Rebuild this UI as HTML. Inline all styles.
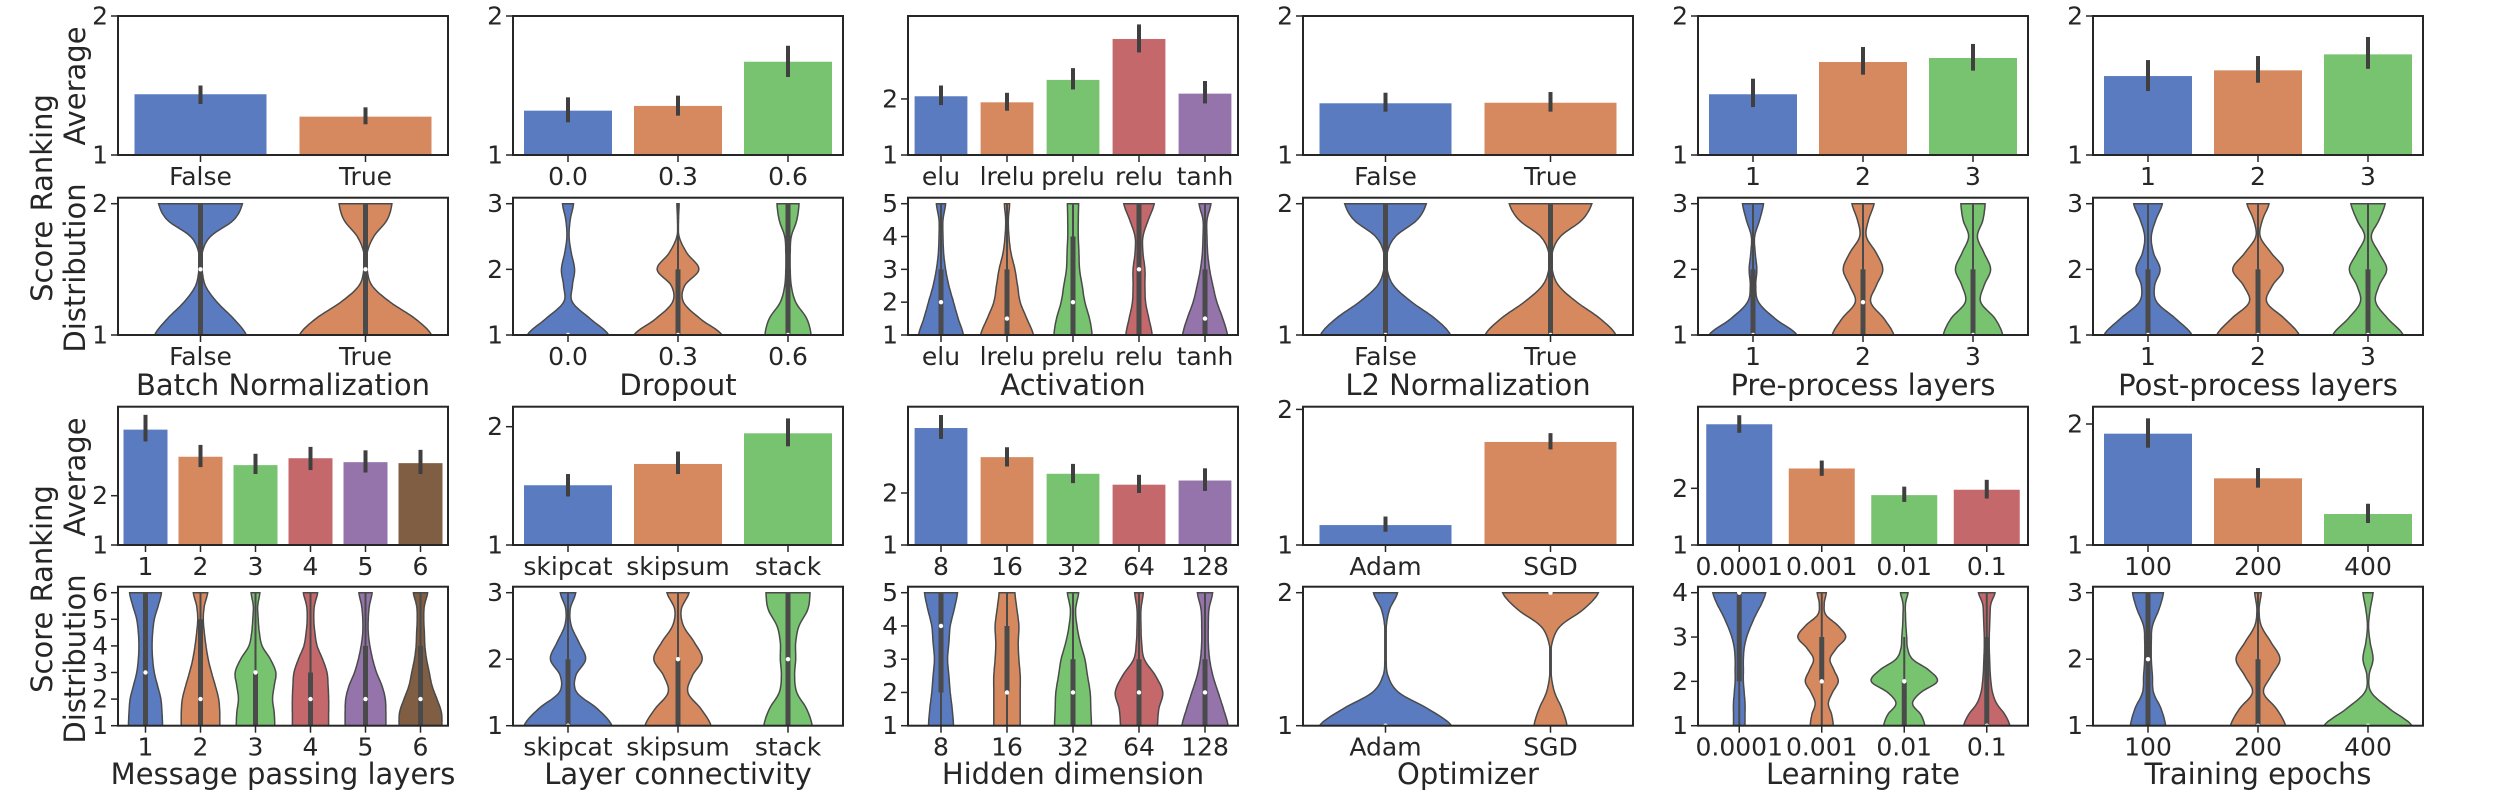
<!DOCTYPE html>
<html><head><meta charset="utf-8"><title>Score ranking by hyperparameter</title>
<style>
html,body{margin:0;padding:0;background:#fff;}
svg text{font-family:"DejaVu Sans","Liberation Sans",sans-serif;fill:#262626;}
</style></head>
<body>
<svg id="fig" xmlns="http://www.w3.org/2000/svg" width="2498" height="796" viewBox="0 0 2498 796">
<g>
<text x="42" y="198" font-size="29" text-anchor="middle" dominant-baseline="central" transform="rotate(-90 42 198)">Score Ranking</text>
<text x="75" y="86" font-size="29" text-anchor="middle" dominant-baseline="central" transform="rotate(-90 75 86)">Average</text>
<text x="75" y="268" font-size="29" text-anchor="middle" dominant-baseline="central" transform="rotate(-90 75 268)">Distribution</text>
</g>
<g>
<text x="42" y="589" font-size="29" text-anchor="middle" dominant-baseline="central" transform="rotate(-90 42 589)">Score Ranking</text>
<text x="75" y="477" font-size="29" text-anchor="middle" dominant-baseline="central" transform="rotate(-90 75 477)">Average</text>
<text x="75" y="659" font-size="29" text-anchor="middle" dominant-baseline="central" transform="rotate(-90 75 659)">Distribution</text>
</g>
</svg>
<script>
// ---------- DATA ----------
const catBN=["False","True"];
const meanBN=[1.437,1.276];
const ciLoBN=[1.367,1.221];
const ciHiBN=[1.50,1.343];
const densBN=[[0.277,0.2,0.1,0.03,0.01,0.01,0.06,0.2,0.254],[0.4,0.3,0.15,0.04,0.01,0.01,0.05,0.13,0.16]];
const boxBN=[[1,2,1.5,1,2],[1,2,1.5,1,2]];

const catDO=["0.0","0.3","0.6"];
const meanDO=[1.319,1.353,1.671];
const ciLoDO=[1.235,1.283,1.561];
const ciHiDO=[1.415,1.427,1.786];
const densDO=[[0.37,0.2,0.04,0.04,0.06,0.03,0.01,0.02,0.05],[0.4,0.2,0.05,0.06,0.19,0.08,0.01,0.005,0.01],[0.21,0.17,0.07,0.03,0.02,0.02,0.03,0.08,0.1]];
const boxDO=[[1,1,1,1,1],[1,2,1,1,3],[1,3,1,1,3]];

const catAC=["elu","lrelu","prelu","relu","tanh"];
const meanAC=[2.048,1.94,2.34,3.07,2.095];
const ciLoAC=[1.89,1.79,2.17,2.83,1.92];
const ciHiAC=[2.24,2.11,2.55,3.33,2.32];
const densAC=[[0.34,0.26,0.19,0.12,0.07,0.04,0.03,0.03,0.07],[0.4,0.3,0.2,0.16,0.12,0.06,0.03,0.02,0.04],[0.29,0.25,0.18,0.14,0.1,0.09,0.08,0.08,0.085],[0.2,0.15,0.1,0.09,0.09,0.06,0.06,0.14,0.23],[0.34,0.27,0.18,0.12,0.07,0.04,0.03,0.03,0.09]];
const boxAC=[[1,3,2,1,5],[1,3,1.5,1,5],[1,4,2,1,5],[1,5,3,1,5],[1,3,1.5,1,5]];

const catL2=["False","True"];
const meanL2=[1.372,1.376];
const ciLoL2=[1.312,1.312];
const ciHiL2=[1.448,1.453];
const densL2=[[0.394,0.3,0.16,0.05,0.01,0.01,0.06,0.19,0.247],[0.396,0.3,0.16,0.05,0.01,0.01,0.06,0.19,0.25]];
const boxL2=[[1,2,1,1,2],[1,2,1,1,2]];

const catPR=["1","2","3"];
const meanPR=[1.437,1.669,1.698];
const ciLoPR=[1.345,1.578,1.607];
const ciHiPR=[1.549,1.777,1.799];
const densPR=[[0.4,0.2,0.05,0.025,0.035,0.02,0.015,0.06,0.095],[0.28,0.19,0.07,0.12,0.18,0.12,0.03,0.05,0.1],[0.27,0.2,0.07,0.1,0.16,0.1,0.04,0.09,0.11]];
const boxPR=[[1,2,1,1,3],[1,2,1.5,1,3],[1,2,1,1,3]];

const catPO=["1","2","3"];
const meanPO=[1.568,1.609,1.724];
const ciLoPO=[1.46,1.52,1.62];
const ciHiPO=[1.683,1.712,1.849];
const densPO=[[0.4,0.25,0.08,0.06,0.11,0.05,0.03,0.07,0.13],[0.375,0.24,0.08,0.13,0.23,0.12,0.02,0.04,0.1],[0.32,0.18,0.07,0.1,0.17,0.1,0.03,0.1,0.155]];
const boxPO=[[1,2,1,1,3],[1,2,1,1,3],[1,2,1,1,3]];

const catMP=["1","2","3","4","5","6"];
const meanMP=[3.34,2.79,2.62,2.76,2.68,2.66];
const ciLoMP=[3.10,2.58,2.44,2.52,2.47,2.44];
const ciHiMP=[3.64,3.03,2.85,2.99,2.92,2.93];
const densMP=[[0.31,0.3,0.28,0.22,0.16,0.13,0.12,0.13,0.16,0.23,0.29],[0.35,0.35,0.33,0.27,0.2,0.14,0.1,0.07,0.05,0.07,0.13],[0.35,0.34,0.31,0.34,0.37,0.27,0.12,0.07,0.05,0.04,0.08],[0.33,0.33,0.33,0.32,0.3,0.22,0.12,0.08,0.06,0.07,0.13],[0.37,0.37,0.36,0.3,0.2,0.13,0.08,0.05,0.05,0.07,0.12],[0.39,0.38,0.3,0.21,0.16,0.11,0.08,0.07,0.06,0.07,0.13]];
const boxMP=[[1,6,3,1,6],[1,5,2,1,6],[1,3,3,1,6],[1,3,2,1,6],[1,4,2,1,6],[1,4,2,1,6]];

const catLC=["skipcat","skipsum","stack"];
const meanLC=[1.505,1.685,1.944];
const ciLoLC=[1.41,1.60,1.834];
const ciHiLC=[1.60,1.79,2.07];
const densLC=[[0.4,0.27,0.08,0.07,0.16,0.1,0.03,0.02,0.07],[0.3,0.21,0.09,0.13,0.22,0.15,0.05,0.03,0.1],[0.22,0.17,0.08,0.06,0.07,0.07,0.1,0.18,0.2]];
const boxLC=[[1,2,1,1,3],[1,2,2,1,3],[1,3,2,1,3]];

const catHD=["8","16","32","64","128"];
const meanHD=[3.25,2.69,2.37,2.16,2.24];
const ciLoHD=[3.04,2.51,2.19,2.0,2.04];
const ciHiHD=[3.5,2.88,2.56,2.35,2.475];
const densHD=[[0.19,0.17,0.14,0.12,0.1,0.12,0.14,0.2,0.25],[0.2,0.2,0.2,0.2,0.18,0.17,0.18,0.15,0.12],[0.28,0.27,0.26,0.22,0.18,0.11,0.06,0.04,0.085],[0.28,0.3,0.36,0.25,0.08,0.04,0.03,0.03,0.065],[0.35,0.28,0.2,0.12,0.07,0.05,0.05,0.06,0.115]];
const boxHD=[[2,5,4,1,5],[2,4,2,1,5],[1,3,2,1,5],[1,3,2,1,5],[1,3,2,1,5]];

const catOP=["Adam","SGD"];
const meanOP=[1.147,1.76];
const ciLoOP=[1.098,1.705];
const ciHiOP=[1.21,1.825];
const densOP=[[0.4,0.26,0.08,0.015,0.004,0.003,0.005,0.025,0.073],[0.1,0.07,0.025,0.005,0.003,0.01,0.06,0.2,0.29]];
const boxOP=[[1,1,1,1,1],[2,2,2,2,2]];

const catLR=["0.0001","0.001","0.01","0.1"];
const meanLR=[3.13,2.35,1.88,1.975];
const ciLoLR=[2.98,2.22,1.76,1.82];
const ciHiLR=[3.29,2.49,2.03,2.15];
const densLR=[[0.07,0.07,0.07,0.06,0.05,0.05,0.05,0.06,0.09,0.14,0.2,0.27,0.32],[0.14,0.12,0.08,0.13,0.2,0.15,0.1,0.18,0.29,0.2,0.05,0.03,0.055],[0.25,0.2,0.1,0.2,0.4,0.3,0.1,0.04,0.03,0.02,0.015,0.015,0.045],[0.28,0.22,0.12,0.07,0.05,0.04,0.035,0.03,0.03,0.035,0.04,0.05,0.1]];
const boxLR=[[2,4,4,1,4],[2,3,2,1,4],[1,2,2,1,3],[1,3,1,1,4]];

const catTE=["100","200","400"];
const meanTE=[1.92,1.551,1.256];
const ciLoTE=[1.804,1.474,1.182];
const ciHiTE=[2.047,1.636,1.341];
const densTE=[[0.16,0.12,0.05,0.04,0.03,0.03,0.04,0.1,0.14],[0.25,0.17,0.05,0.12,0.2,0.12,0.03,0.01,0.03],[0.4,0.2,0.03,0.01,0.046,0.02,0.005,0.02,0.046]];
const boxTE=[[1,3,2,1,3],[1,2,1,1,3],[1,1,1,1,1]];

const barYlims=[[1,2],[1,2],[1,3.48],[1,2],[1,2],[1,2],[1,3.805],[1,2.169],[1,3.66],[1,2.02],[1,3.44],[1,2.143]];
const violinTopVals=[2,3,5,2,3,3,6,3,5,2,4,3];
const xlabels=["Batch Normalization","Dropout","Activation","L2 Normalization","Pre-process layers","Post-process layers","Message passing layers","Layer connectivity","Hidden dimension","Optimizer","Learning rate","Training epochs"];
const palette=["#5a7bc0","#d6895f","#78c36f","#c4686c","#9474aa","#7f5e43"];

const panels=[
 [catBN,meanBN,ciLoBN,ciHiBN,densBN,boxBN],[catDO,meanDO,ciLoDO,ciHiDO,densDO,boxDO],
 [catAC,meanAC,ciLoAC,ciHiAC,densAC,boxAC],[catL2,meanL2,ciLoL2,ciHiL2,densL2,boxL2],
 [catPR,meanPR,ciLoPR,ciHiPR,densPR,boxPR],[catPO,meanPO,ciLoPO,ciHiPO,densPO,boxPO],
 [catMP,meanMP,ciLoMP,ciHiMP,densMP,boxMP],[catLC,meanLC,ciLoLC,ciHiLC,densLC,boxLC],
 [catHD,meanHD,ciLoHD,ciHiHD,densHD,boxHD],[catOP,meanOP,ciLoOP,ciHiOP,densOP,boxOP],
 [catLR,meanLR,ciLoLR,ciHiLR,densLR,boxLR],[catTE,meanTE,ciLoTE,ciHiTE,densTE,boxTE]
];

// ---------- DRAW ----------
const NS="http://www.w3.org/2000/svg";
const svg=document.getElementById("fig");
function mk(tag,attrs,parent){const e=document.createElementNS(NS,tag);for(const k in attrs)e.setAttribute(k,attrs[k]);(parent||svg).appendChild(e);return e;}
const DARK="#262626";
const W=330;
const rows=[{bt:16,bb:155,vt:197.7,vb:335,xl:395},{bt:406.7,bb:545,vt:586.7,vb:725.7,xl:784}];

panels.forEach((p,i)=>{
  const [cats,means,lo,hi,dens,box]=p;
  const col=i%6, r=rows[Math.floor(i/6)];
  const L=118+395*col;
  const n=cats.length, slot=W/n;
  const xc=k=>L+slot*(k+0.5);
  const yl=barYlims[i];
  const yB=v=>r.bb-(v-yl[0])/(yl[1]-yl[0])*(r.bb-r.bt);
  const g=mk("g",{});
  
  
  // bars
  cats.forEach((c,k)=>{
    const x0=xc(k)-slot*0.4, y=yB(means[k]);
    const b=mk("rect",{x:x0,y:y,width:slot*0.8,height:r.bb-y,fill:palette[k]},g);
    
    
    const e=mk("line",{x1:xc(k),x2:xc(k),y1:yB(lo[k]),y2:yB(hi[k]),stroke:"#3f3f3f","stroke-width":4},g);
    
    
  });
  const f1=mk("rect",{x:L,y:r.bt,width:W,height:r.bb-r.bt,fill:"none",stroke:DARK,"stroke-width":2},g);
  
  
  // bar y ticks
  [1,2].forEach(t=>{
    if(t<yl[0]||t>yl[1]+1e-6)return;
    const y=yB(t);
    const tk=mk("line",{x1:L-7,x2:L,y1:y,y2:y,stroke:DARK,"stroke-width":1.5},g);
    
    
    const tl=mk("text",{x:L-10,y:y,"font-size":25,"text-anchor":"end","dominant-baseline":"central"},g);
    tl.textContent=t;
    
    
  });
  // violin
  const K=violinTopVals[i];
  const yV=v=>r.vb-(v-1)/(K-1)*(r.vb-(r.vt+6));
  dens.forEach((d,k)=>{
    const m=d.length, step=(K-1)/(m-1);
    const pts=[];
    for(let s=0;s<m-1;s++){
      const p0=d[Math.max(s-1,0)],p1=d[s],p2=d[s+1],p3=d[Math.min(s+2,m-1)];
      for(let t=0;t<8;t++){
        const u=t/8;
        const w=0.5*((2*p1)+(-p0+p2)*u+(2*p0-5*p1+4*p2-p3)*u*u+(-p0+3*p1-3*p2+p3)*u*u*u);
        pts.push([1+(s+u)*step,Math.max(w,0.004)]);
      }
    }
    pts.push([K,d[m-1]]);
    const right=pts.map(q=>[xc(k)+q[1]*slot,yV(q[0])]);
    const left=pts.slice().reverse().map(q=>[xc(k)-q[1]*slot,yV(q[0])]);
    const all=right.concat(left);
    const v=mk("path",{d:"M"+all.map(q=>q[0].toFixed(1)+","+q[1].toFixed(1)).join("L")+"Z",fill:palette[k],stroke:"#4a4a4a","stroke-width":1.5},g);
    
    
    const bx=box[k];
    const wl=mk("line",{x1:xc(k),x2:xc(k),y1:yV(bx[3]),y2:yV(bx[4]),stroke:"#4a4a4a","stroke-width":2},g);
    
    
    const bl=mk("line",{x1:xc(k),x2:xc(k),y1:yV(bx[0]),y2:yV(bx[1]),stroke:"#4a4a4a","stroke-width":5},g);
    
    
    const md=mk("circle",{cx:xc(k),cy:yV(bx[2]),r:2.2,fill:"#fff"},g);
    
    
  });
  const f2=mk("rect",{x:L,y:r.vt,width:W,height:r.vb-r.vt,fill:"none",stroke:DARK,"stroke-width":2},g);
  
  
  for(let t=1;t<=K;t++){
    const y=yV(t);
    const tk=mk("line",{x1:L-7,x2:L,y1:y,y2:y,stroke:DARK,"stroke-width":1.5},g);
    
    
    const tl=mk("text",{x:L-10,y:y,"font-size":25,"text-anchor":"end","dominant-baseline":"central"},g);
    tl.textContent=t;
    
    
  }
  // x ticks for both
  [[r.bb],[r.vb]].forEach(([yb])=>{
    cats.forEach((c,k)=>{
      const tk=mk("line",{x1:xc(k),x2:xc(k),y1:yb,y2:yb+7,stroke:DARK,"stroke-width":1.5},g);
      
      
      const tl=mk("text",{x:xc(k),y:yb+30,"font-size":25,"text-anchor":"middle"},g);
      tl.textContent=c;
      
      
    });
  });
  const xl=mk("text",{x:L+W/2,y:r.xl,"font-size":29,"text-anchor":"middle"},g);
  xl.textContent=xlabels[i];
  
  
});
</script>
</body></html>
